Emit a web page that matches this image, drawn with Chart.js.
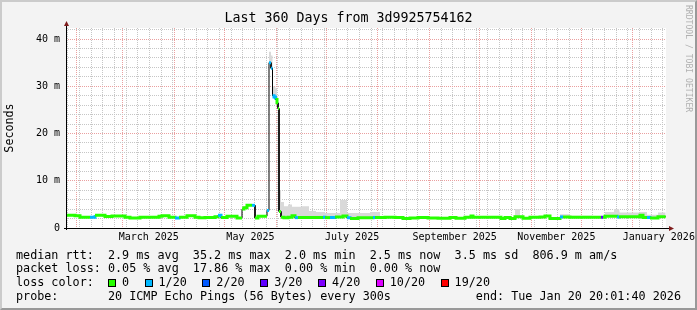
<!DOCTYPE html>
<html>
<head>
<meta charset="utf-8">
<script src="https://cdn.jsdelivr.net/npm/chart.js@4.4.1/dist/chart.umd.min.js"></script>
<style>
  html, body { margin: 0; padding: 0; background: #f3f3f3; }
  #wrap { position: relative; width: 697px; height: 310px; overflow: hidden; font-family: "DejaVu Sans Mono", monospace; }
  #graph { position: absolute; left: 0; top: 0; }
  .frame { position: absolute; left: 0; top: 0; width: 697px; height: 310px; box-sizing: border-box;
           border-style: solid; border-width: 2px; border-color: #cbcbcb #999 #999 #cbcbcb; pointer-events: none; }
  .row { position: absolute; left: 16px; font-size: 11.75px; line-height: 14px; white-space: pre; color: #000; }
  .sw { display: inline-block; width: 6px; height: 6px; border: 1px solid #000; margin-right: 6px; vertical-align: -1px; }
  .lbl { margin-right: 15.5px; }
  .stamp { position: absolute; left: 684px; top: 5px; writing-mode: vertical-rl; font-size: 8.1px; line-height: 9px;
           color: #b0b0b0; white-space: pre; }
</style>
</head>
<body>
<div id="wrap">
  <canvas id="graph" width="697" height="310"></canvas>
  <div class="row" style="top:248px">median rtt:  2.9 ms avg  35.2 ms max  2.0 ms min  2.5 ms now  3.5 ms sd  806.9 m am/s</div>
  <div class="row" style="top:261px">packet loss: 0.05 % avg  17.86 % max  0.00 % min  0.00 % now</div>
  <div class="row" id="lossRow" style="top:275px">loss color:  </div>
  <div class="row" style="top:289px">probe:       20 ICMP Echo Pings (56 Bytes) every 300s            end: Tue Jan 20 20:01:40 2026</div>
  <div class="stamp">RRDTOOL / TOBI OETIKER</div>
  <div class="frame"></div>
</div>
<script>
// time window: 360 days ending Tue Jan 20 20:01:40 2026
const DAY = 86400000;
const startMs = Date.UTC(2025, 0, 25, 20, 1, 40);
const spanDays = 360;

// median rtt steps (day offset where each step starts), in ms
const stepStart = [
  0, 5.4, 8.4, 14.4, 17.4, 23.4, 27.6, 35.4, 38.4, 44.4,
  55.8, 57.6, 61.8, 65.4, 67.8, 72.6, 77.4, 79.8, 83.4, 89.4,
  91.2, 93, 96.6, 102.6, 105.6, 106.8, 108.6, 111.6, 113.4, 115.2,
  120.6, 121.8, 123, 123.9, 124.8, 125.7, 126.6, 127.2, 127.8, 129,
  130.8, 133.2, 135.6, 137.4, 139.2, 141.6, 145.8, 150, 154.2, 155.4,
  158.4, 161.4, 164.4, 166.2, 168.6, 170.4, 175.2, 182.4, 184.2, 185.4,
  188.4, 191.4, 197.4, 202.2, 206.4, 211.2, 217.2, 223.2, 230.4, 234,
  239.4, 243, 244.2, 252, 259.2, 261, 263.4, 266.4, 269.4, 272.4,
  274.2, 278.4, 281.4, 284.4, 287.4, 290.4, 296.4, 298.2, 302.4, 315.6,
  321, 322.2, 323.4, 328.8, 330.6, 331.8, 332.4, 344.4, 346.2, 348.6,
  350.4, 355.2
];
const lastDay = 359.8;

const rttMs = [
  2.7, 2.6, 2.3, 2.3, 2.7, 2.45, 2.55, 2.25, 2.1, 2.25,
  2.5, 2.6, 2.3, 2.1, 2.3, 2.6, 2.3, 2.15, 2.2, 2.4,
  2.7, 2.2, 2.5, 2.1, 4.0, 4.3, 4.8, 4.8, 2.1, 2.5,
  3.7, 35.0, 33.8, 28.0, 27.7, 27.2, 26.5, 25.3, 3.5, 2.3,
  2.15, 2.3, 2.6, 2.2, 2.2, 2.2, 2.2, 2.2, 2.3, 2.2,
  2.2, 2.35, 2.35, 2.55, 2.15, 2.0, 2.15, 2.15, 2.2, 2.2,
  2.2, 2.3, 2.2, 2.0, 2.1, 2.2, 2.1, 2.05, 2.2, 2.05,
  2.3, 2.55, 2.3, 2.25, 2.3, 2.0, 2.2, 2.0, 2.4, 2.4,
  2.05, 2.3, 2.25, 2.35, 2.55, 2.0, 2.35, 2.35, 2.3, 2.25,
  2.25, 2.25, 2.5, 2.5, 2.35, 2.4, 2.4, 2.7, 2.2, 2.2,
  2.1, 2.4
];

// lost pings out of 20 per step
const lossOf20 = [
  0, 0, 0, 1, 0, 0, 0, 0, 0, 0,
  0, 0, 0, 1, 0, 0, 0, 0, 0, 0,
  1, 0, 0, 0, 0, 0, 0, 1, 0, 0,
  1, 1, 1, 1, 1, 0, 0, 0, 0, 0,
  0, 0, 0, 1, 0, 0, 0, 0, 1, 0,
  1, 0, 0, 0, 1, 0, 0, 0, 1, 0,
  0, 0, 0, 0, 0, 0, 0, 0, 0, 0,
  0, 0, 0, 0, 0, 0, 0, 0, 0, 0,
  0, 0, 0, 0, 0, 0, 1, 0, 0, 0,
  3, 0, 0, 0, 1, 0, 0, 0, 0, 1,
  0, 0
];

// top of the smoke (slowest pings) per step, ms
const smokeTopMs = [
  2.9, 2.8, 2.5, 2.5, 2.9, 2.6, 2.7, 2.4, 2.3, 2.4,
  2.7, 2.8, 2.5, 2.3, 2.5, 2.8, 2.5, 2.3, 2.4, 2.6,
  2.9, 2.4, 2.7, 2.3, 4.3, 4.6, 5.1, 5.1, 2.3, 2.7,
  4.0, 37.3, 36.5, 30.0, 29.9, 29.5, 28.0, 26.5, 8.0, 5.5,
  4.6, 5.0, 4.5, 4.5, 4.5, 4.6, 3.6, 3.4, 3.4, 3.2,
  3.2, 3.2, 5.9, 5.9, 3.2, 3.2, 3.2, 3.4, 3.4, 3.4,
  2.4, 2.5, 2.4, 2.2, 2.3, 2.4, 2.3, 2.25, 2.4, 2.25,
  2.5, 2.75, 2.5, 2.45, 2.5, 2.2, 2.4, 2.2, 4.0, 2.6,
  2.25, 2.5, 2.45, 2.55, 2.75, 2.2, 2.9, 2.9, 2.6, 2.45,
  2.45, 2.45, 3.4, 4.0, 4.0, 4.0, 3.3, 3.4, 3.4, 2.8,
  2.8, 3.3
];

// loss colour legend
const lossSteps = [0, 1, 2, 3, 4, 10, 19];
const lossLabels = ['0', '1/20', '2/20', '3/20', '4/20', '10/20', '19/20'];
const lossColors = ['#26ff00', '#00b8ff', '#0059ff', '#5e00ff', '#7e00ff', '#dd00ff', '#ff0000'];

// axis labels
const labelMonths = [[2025, 2], [2025, 4], [2025, 6], [2025, 8], [2025, 10], [2026, 0]];
const monthLabels = ['March 2025', 'May 2025', 'July 2025', 'September 2025', 'November 2025', 'January 2026'];
const yTickValues = [0, 10, 20, 30, 40];
const yTickLabels = ['0', '10 m', '20 m', '30 m', '40 m'];

function dayOf(y, m, d) { return (Date.UTC(y, m, d) - startMs) / DAY; }

function lossColor(n) {
  let c = lossColors[0];
  lossSteps.forEach((s, i) => { if (n >= s) c = lossColors[i]; });
  return c;
}

function stepPoints(values) {
  const pts = [];
  values.forEach((v, i) => {
    const end = i + 1 < stepStart.length ? stepStart[i + 1] : lastDay;
    pts.push({ x: stepStart[i], y: v }, { x: end, y: v });
  });
  return pts;
}

// grid positions on the time axis
const monthStarts = [];
for (let y = 2025, m = 1; ; ) {
  const d = dayOf(y, m, 1);
  if (d > spanDays) break;
  monthStarts.push(d);
  m++; if (m > 11) { m = 0; y++; }
}
const weekStarts = [];
for (let d = dayOf(2025, 0, 27); d <= spanDays; d += 7) {
  if (!monthStarts.some(v => Math.abs(v - d) < 0.01)) weekStarts.push(d);
}
const labelDays = labelMonths.map(([y, m]) => (dayOf(y, m, 1) + dayOf(y, m + 1, 1)) / 2);

const near = (arr, v) => arr.findIndex(a => Math.abs(a - v) < 0.001);

const gridMinor = '#c6c6c6';
const gridMajor = '#eaa0a0';

const rrdFrame = {
  id: 'rrdFrame',
  beforeDraw(chart) {
    const { ctx, chartArea: a } = chart;
    ctx.save();
    ctx.fillStyle = '#fff';
    ctx.fillRect(a.left, a.top, a.right - a.left, a.bottom - a.top);
    ctx.restore();
  },
  afterDatasetsDraw(chart) {
    const { ctx, chartArea: a } = chart;
    const x0 = a.left + 0.5, y0 = a.bottom + 0.5;
    ctx.save();
    ctx.strokeStyle = '#000';
    ctx.lineWidth = 1;
    ctx.beginPath();
    ctx.moveTo(a.left - 2, y0); ctx.lineTo(a.right + 4, y0);
    ctx.moveTo(x0, a.bottom + 2); ctx.lineTo(x0, a.top - 3);
    ctx.stroke();
    ctx.fillStyle = '#7f1d1d';
    ctx.beginPath();
    ctx.moveTo(x0 - 2.5, a.top - 2); ctx.lineTo(x0, a.top - 7); ctx.lineTo(x0 + 2.5, a.top - 2);
    ctx.closePath(); ctx.fill();
    ctx.beginPath();
    ctx.moveTo(a.right + 3, y0 - 2.5); ctx.lineTo(a.right + 8, y0); ctx.lineTo(a.right + 3, y0 + 2.5);
    ctx.closePath(); ctx.fill();
    ctx.restore();
  }
};

document.addEventListener("DOMContentLoaded", function () {
  // loss colour legend
  const row = document.getElementById("lossRow");
  lossLabels.forEach((t, i) => {
    const sw = document.createElement("span");
    sw.className = "sw";
    sw.style.background = lossColors[i];
    const lb = document.createElement("span");
    lb.className = "lbl";
    lb.textContent = t;
    row.appendChild(sw);
    row.appendChild(lb);
  });

  Chart.defaults.font.family = "'DejaVu Sans Mono', monospace";
  Chart.defaults.color = '#000';

  const ctx = document.getElementById("graph");
  new Chart(ctx, {
    type: "line",
    data: {
      datasets: [
        {
          label: "smoke",
          data: stepPoints(smokeTopMs),
          borderWidth: 0,
          pointRadius: 0,
          backgroundColor: '#d9d9d9',
          fill: '+1',
          order: 3,
        },
        {
          label: "median",
          data: stepPoints(rttMs),
          borderColor: '#000',
          borderWidth: 1,
          pointRadius: 0,
          fill: false,
          order: 2,
        },
        {
          label: "median loss",
          data: stepPoints(rttMs),
          borderWidth: 3,
          borderCapStyle: 'butt',
          pointRadius: 0,
          fill: false,
          order: 1,
          segment: {
            borderColor: (c) => {
              const i = Math.floor(c.p0DataIndex / 2);
              if (c.p0.parsed.x === c.p1.parsed.x && Math.abs(c.p0.parsed.y - c.p1.parsed.y) > 0.8) {
                return 'rgba(0,0,0,0)';
              }
              return lossColor(lossOf20[i]);
            },
          },
        },
      ],
    },
    options: {
      responsive: false,
      animation: false,
      layout: { padding: 0 },
      plugins: {
        legend: { display: false },
        tooltip: { enabled: false },
        title: {
          display: true,
          text: "Last 360 Days from 3d9925754162",
          color: '#000',
          font: { size: 13.3, weight: 'normal' },
          padding: { top: 11.04, bottom: 1 },
        },
      },
      scales: {
        x: {
          type: 'linear',
          min: 0,
          max: spanDays,
          border: { display: false, dash: [1, 1] },
          grid: {
            drawTicks: false,
            color: (c) => {
              const v = c.tick ? c.tick.value : -1;
              if (near(monthStarts, v) >= 0) return gridMajor;
              if (near(weekStarts, v) >= 0) return gridMinor;
              return 'rgba(0,0,0,0)';
            },
          },
          ticks: {
            autoSkip: false,
            maxRotation: 0,
            minRotation: 0,
            padding: 3,
            font: { size: 10 },
            callback: (v) => {
              const k = near(labelDays, v);
              return k >= 0 ? monthLabels[k] : '';
            },
          },
          afterBuildTicks: (scale) => {
            const vals = [...monthStarts, ...weekStarts, ...labelDays].sort((a, b) => a - b);
            scale.ticks = vals.map(v => ({ value: v }));
          },
          afterFit: (scale) => {
            scale.height = 82;
            scale.paddingLeft = 0;
            scale.paddingRight = 0;
          },
        },
        y: {
          min: 0,
          max: 42.33,
          border: { display: false, dash: [1, 1] },
          grid: {
            drawTicks: false,
            color: (c) => (c.tick && c.tick.value % 10 === 0 ? gridMajor : gridMinor),
          },
          title: {
            display: true,
            text: "Seconds",
            color: '#000',
            font: { size: 11.7 },
            padding: { top: 3, bottom: 0 },
          },
          ticks: {
            autoSkip: false,
            padding: 6,
            font: { size: 10 },
            callback: (v) => {
              const k = yTickValues.indexOf(v);
              return k >= 0 ? yTickLabels[k] : '';
            },
          },
          afterBuildTicks: (scale) => {
            const vals = [];
            for (let v = 0; v <= 42; v += 2) vals.push({ value: v });
            scale.ticks = vals;
          },
          afterFit: (scale) => {
            scale.width = 66;
            scale.paddingTop = 0;
            scale.paddingBottom = 0;
          },
        },
        // empty right-hand strip so the plot ends where the rrd graph does
        yRight: {
          position: 'right',
          min: 0,
          max: 42.33,
          border: { display: false },
          grid: { display: false },
          ticks: { display: false },
          afterFit: (scale) => {
            scale.width = 31;
            scale.paddingTop = 0;
            scale.paddingBottom = 0;
          },
        },
      },
    },
    plugins: [rrdFrame],
  });
});
</script>
</body>
</html>
